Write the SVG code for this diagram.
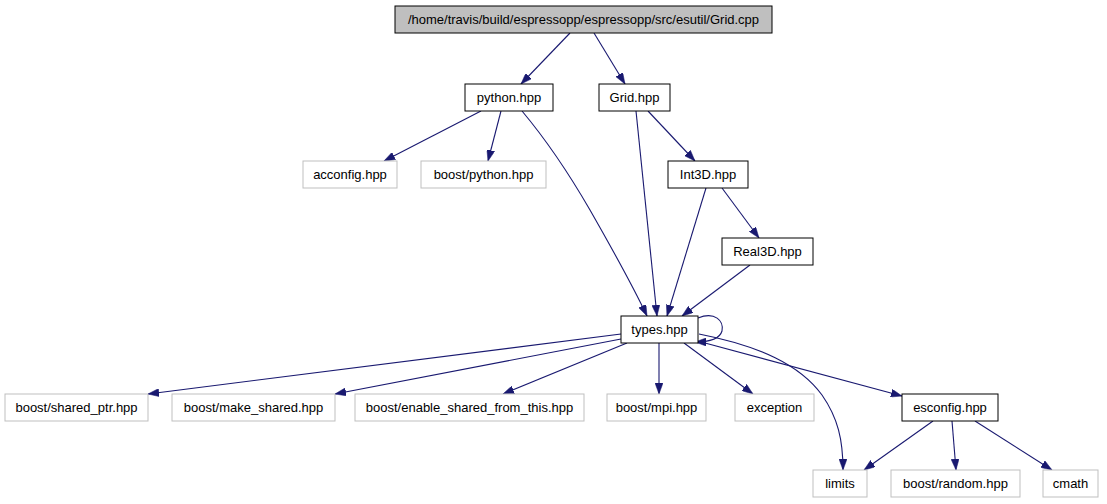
<svg xmlns="http://www.w3.org/2000/svg" width="1107" height="504" viewBox="0 0 1107 504">
<style>
.n rect{fill:#fff;stroke:#000;stroke-width:1}
.g rect{fill:#fff;stroke:#bfbfbf;stroke-width:1}
#n0 rect{fill:#bfbfbf;stroke:#000}
text{font-family:"Liberation Sans",Arial,sans-serif;font-size:13px;text-anchor:middle;fill:#000}
#edges path{fill:none;stroke:#191970;stroke-width:1.1;marker-end:url(#ah)}
</style>
<defs>
<marker id="ah" viewBox="0 0 11 8" refX="11" refY="4" markerWidth="11" markerHeight="8" markerUnits="userSpaceOnUse" orient="auto">
<path d="M0,0 L11,4 L0,8 z" fill="#191970" stroke="#191970" stroke-width="0.5"/>
</marker>
</defs>
<rect width="1107" height="504" fill="#fff"/>
<g id="edges">
<path d="M570,33 L521,84"/>
<path d="M594,33 L625,84"/>
<path d="M481,111 L384,161"/>
<path d="M501,111 L488,161"/>
<path d="M522,111 C548,142 568,172 590,210 C610,245 630,280 647,316"/>
<path d="M636,111 L657,316"/>
<path d="M648,111 L695,161"/>
<path d="M706,188 L667,316"/>
<path d="M722,188 L759,238"/>
<path d="M750,265 L682,316"/>
<path d="M698,318 C715,311 724,321 722,331 C720,338 712,342 695,342"/>
<path d="M621,334 L148,394"/>
<path d="M621,339 L335,394"/>
<path d="M627,343 L503,394"/>
<path d="M659,343 L659,394"/>
<path d="M684,343 L753,394"/>
<path d="M699,334 C760,346 800,365 822,395 C838,418 843,440 843,470"/>
<path d="M705,343 L902,396"/>
<path d="M933,421 L864,470"/>
<path d="M952,421 L956,470"/>
<path d="M975,421 L1052,470"/>
</g>
<g id="n0"><rect x="395" y="6" width="377" height="27"/><text x="583.5" y="24">/home/travis/build/espressopp/espressopp/src/esutil/Grid.cpp</text></g>
<g id="n1" class="n"><rect x="465" y="84" width="88" height="27"/><text x="509" y="102">python.hpp</text></g>
<g id="n2" class="n"><rect x="599" y="84" width="71" height="27"/><text x="634.5" y="102">Grid.hpp</text></g>
<g id="n3" class="g"><rect x="303" y="161" width="94" height="27"/><text x="350" y="179">acconfig.hpp</text></g>
<g id="n4" class="g"><rect x="421" y="161" width="125" height="27"/><text x="483.5" y="179">boost/python.hpp</text></g>
<g id="n5" class="n"><rect x="668" y="161" width="80" height="27"/><text x="708" y="179">Int3D.hpp</text></g>
<g id="n6" class="n"><rect x="722" y="238" width="91" height="27"/><text x="767.5" y="256">Real3D.hpp</text></g>
<g id="n7" class="n"><rect x="621" y="316" width="77" height="27"/><text x="659.5" y="334">types.hpp</text></g>
<g id="n8" class="g"><rect x="5" y="394" width="143" height="27"/><text x="76.5" y="412">boost/shared_ptr.hpp</text></g>
<g id="n9" class="g"><rect x="172" y="394" width="163" height="27"/><text x="253.5" y="412">boost/make_shared.hpp</text></g>
<g id="n10" class="g"><rect x="355" y="394" width="229" height="27"/><text x="469.5" y="412">boost/enable_shared_from_this.hpp</text></g>
<g id="n11" class="g"><rect x="607" y="394" width="99" height="27"/><text x="656.5" y="412">boost/mpi.hpp</text></g>
<g id="n12" class="g"><rect x="735" y="394" width="79" height="27"/><text x="774.5" y="412">exception</text></g>
<g id="n13" class="n"><rect x="902" y="394" width="96" height="27"/><text x="950" y="412">esconfig.hpp</text></g>
<g id="n14" class="g"><rect x="813" y="470" width="54" height="27"/><text x="840" y="488">limits</text></g>
<g id="n15" class="g"><rect x="891" y="470" width="129" height="27"/><text x="955.5" y="488">boost/random.hpp</text></g>
<g id="n16" class="g"><rect x="1043" y="470" width="55" height="27"/><text x="1070.5" y="488">cmath</text></g>
</svg>
